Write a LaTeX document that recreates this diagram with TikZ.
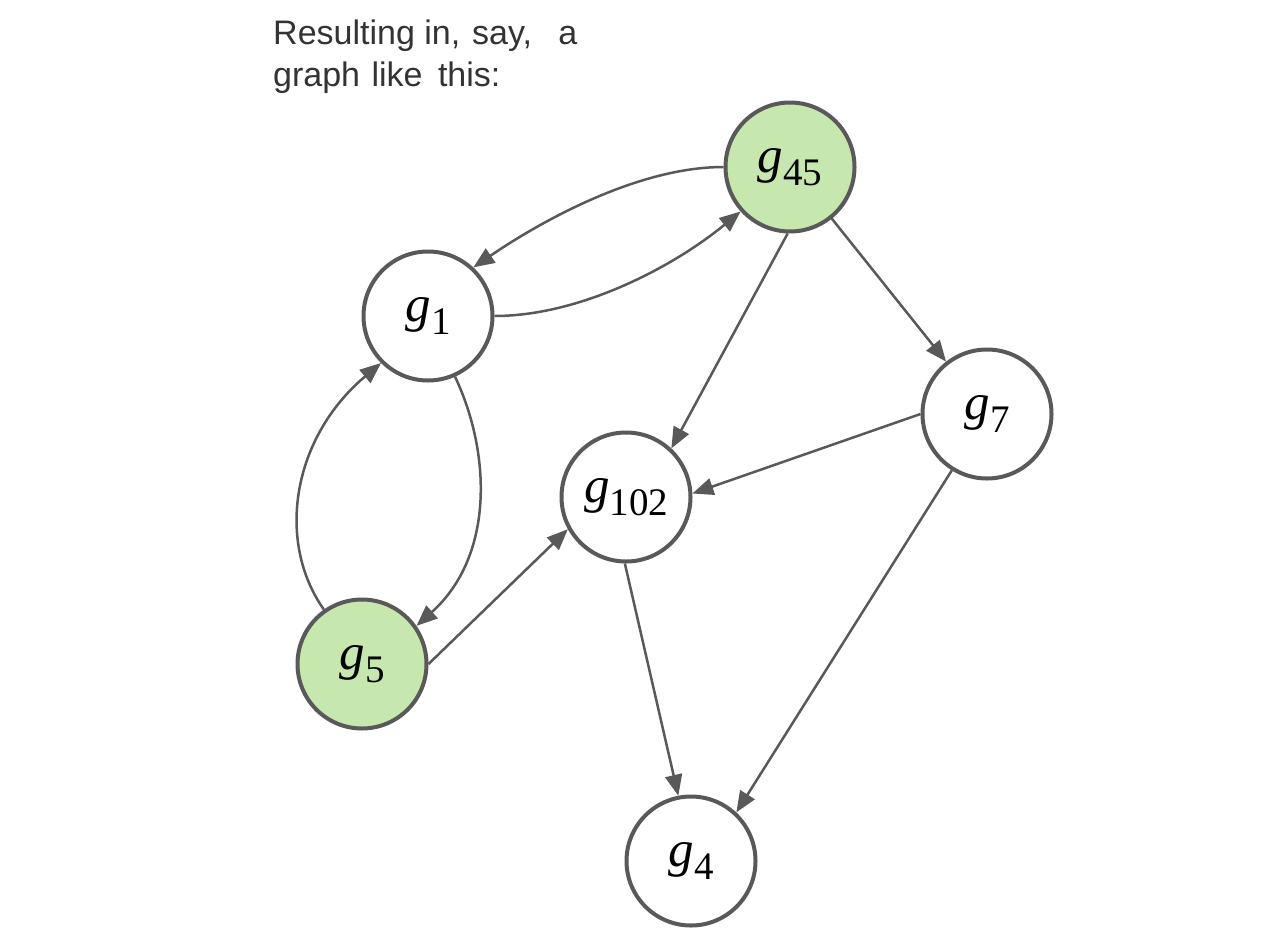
\documentclass[tikz,border=0pt]{standalone}
\usepackage{fontspec}
\setmainfont{Liberation Serif}
\newfontfamily\sansf{Liberation Sans}
\usetikzlibrary{arrows.meta}
\definecolor{edgec}{HTML}{595959}
\definecolor{gfill}{HTML}{C6E7AE}
\definecolor{txtc}{HTML}{333333}
\newcommand\glab[1]{{\fontsize{51}{51}\selectfont\itshape g}{\fontsize{39}{39}\selectfont\raisebox{-13pt}{#1}}}
\begin{document}
\begin{tikzpicture}[x=1pt,y=-1pt,
 gnode/.style={circle,draw=edgec,line width=4pt,fill=white,minimum size=129pt,inner sep=0pt},
 gsel/.style={gnode,fill=gfill},
 edge/.style={draw=edgec,line width=2.5pt,-{Triangle[length=21pt,width=17pt]}},
 captext/.style={font=\sansf\fontsize{34}{40}\selectfont,text=txtc,anchor=base west,inner sep=0pt}]
\useasboundingbox (0,0) rectangle (1280,940);
\node[captext] (t1) at (273,44) {Resulting in,\hspace{2.5pt} say,\hspace{17pt} a};
\node[captext] (t2) at (273,86) {graph\hspace{2pt} like\hspace{6pt} this:};
\node[gsel] (g45) at (790,167) {\glab{45}};
\node[gnode] (g1) at (428,316) {\glab{1}};
\node[gnode] (g7) at (987,414) {\glab{7}};
\node[gnode] (g102) at (626,497) {\glab{102}};
\node[gsel] (g5) at (362,664) {\glab{5}};
\node[gnode] (g4) at (691,861) {\glab{4}};
\draw[edge] (g45.180) .. controls +(-85,0) and +(69,-47) .. (g1.47);
\draw[edge] (g1.0) .. controls +(85,0) and +(-68,56) .. (g45.222);
\draw[edge] (g45.268) -- (g102.47);
\draw[edge] (g45.309) -- (g7.128);
\draw[edge] (g7.180) -- (g102.3);
\draw[edge] (g7.238) -- (g4.47);
\draw[edge] (g1.294) .. controls +(36,76) and +(78,-70) .. (g5.35);
\draw[edge] (g5.125) .. controls +(-48,-68) and +(-89,75) .. (g1.225);
\draw[edge] (g5.0) -- (g102.209);
\draw[edge] (g102.269) -- (g4.101);
\end{tikzpicture}
\end{document}
